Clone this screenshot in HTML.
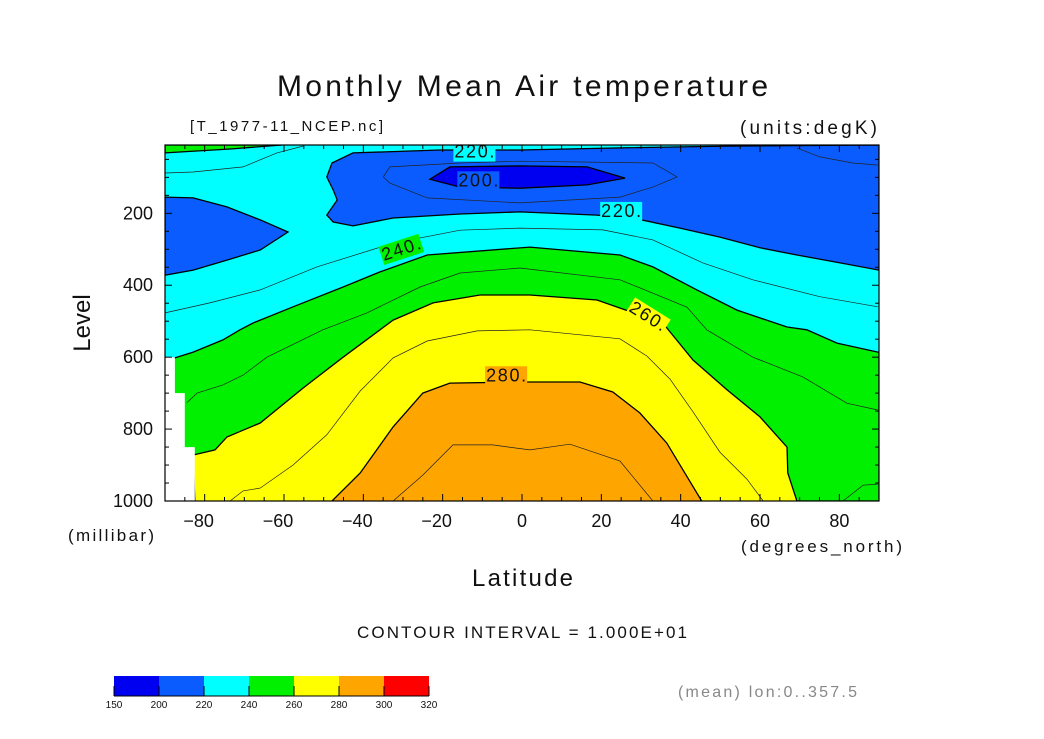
<!DOCTYPE html>
<html><head><meta charset="utf-8"><style>
html,body{margin:0;padding:0;background:#fff;}
svg{display:block;font-family:"Liberation Sans",sans-serif;}
</style></head><body>
<svg id="chart" width="1044" height="739" viewBox="0 0 1044 739">
<text x="277" y="96" font-size="30" textLength="491" lengthAdjust="spacing" fill="#111">Monthly Mean Air temperature</text>
<text x="190" y="131" font-size="15" textLength="193" lengthAdjust="spacing" fill="#111">[T_1977-11_NCEP.nc]</text>
<text x="740" y="134" font-size="19" textLength="137" lengthAdjust="spacing" fill="#111">(units:degK)</text>
<g id="plot"></g>
<g id="axes"></g>
<text transform="translate(90,323) rotate(-90)" font-size="24" text-anchor="middle" fill="#111">Level</text>
<text x="68" y="541" font-size="17" textLength="86" lengthAdjust="spacing" fill="#111">(millibar)</text>
<text x="741" y="552" font-size="17" textLength="161" lengthAdjust="spacing" fill="#111">(degrees_north)</text>
<text x="472" y="586" font-size="24" textLength="101" lengthAdjust="spacing" fill="#111">Latitude</text>
<text x="357" y="638" font-size="17" textLength="330" lengthAdjust="spacing" fill="#111">CONTOUR INTERVAL = 1.000E+01</text>
<g id="cbar"></g>
<text x="678" y="697" font-size="16" textLength="179" lengthAdjust="spacing" fill="#888">(mean) lon:0..357.5</text>
</svg>
<script>
// ---- data ----
const xTicks = [-80,-60,-40,-20,0,20,40,60,80];
const yTicks = [200,400,600,800,1000];
const cbLevels = [150,200,220,240,260,280,300,320];
const cbColors = ["#0000f0","#0a5cff","#00ffff","#00f000","#ffff00","#ffa500","#ff0000"];
// filled regions, [lat, pressure] vertices
const greenTop = [[-90,10],[-60.5,10],[-73.6,21],[-90,32]];
const blueLeft = [[-90,155],[-82.9,157],[-74.4,182],[-66,218],[-59,252],[-66,302],[-74.4,330],[-82.9,358],[-90,372]];
const blueUpper = [[-42.6,32],[-20.7,24],[-0.5,24],[24.7,18],[51.7,13],[90,10],[90,358],[80.2,338],[69.3,316],[60,296],[49.9,266],[39.8,241],[30.5,219],[18.9,205],[-0.5,196],[-15.6,202],[-32.5,213],[-42.6,235],[-47.6,224],[-49.2,205],[-46.6,163],[-47.6,135],[-49.2,99],[-47.9,60]];
const darkBlue = [[-23.2,105],[-18.2,71],[-0.5,68],[16.4,71],[26,102],[16.4,121],[-0.5,130],[-15.6,127]];
const green240 = [[-90,605],[-87.5,602],[-82.9,586],[-75.4,552],[-71.1,524],[-67.8,505],[-57.7,460],[-45.1,405],[-35.8,363],[-23.9,316],[2,294],[24.7,316],[33,349],[44.1,413],[54.2,469],[66.8,516],[71.8,524],[79.4,561],[89.7,586],[90,586],[90,1000],[-90,1000]];
const yellow260 = [[-82.5,1000],[-82.9,872],[-77.4,858],[-74.4,822],[-70.3,803],[-66,783],[-55.2,686],[-45.1,600],[-35.8,524],[-32.5,497],[-22.4,449],[-10.6,427],[2,427],[18.9,441],[35.5,505],[43.1,608],[51.7,691],[60,766],[66.8,850],[67,922],[69.3,1000]];
const orange280 = [[-47.9,1000],[-40.8,922],[-32.5,794],[-25,700],[-18.2,672],[-0.5,669],[14.6,669],[22.9,697],[29.7,755],[36.5,839],[45.3,1000]];
const missing = [[-90,600],[-87.5,600],[-87.5,700],[-85,700],[-85,850],[-82.5,850],[-82.5,1000],[-90,1000]];
// thin intermediate contours
const line215 = [[-35,99],[-33.3,71],[-15.6,60],[-0.5,55],[33,60],[39.1,99],[33,127],[24.7,155],[-0.5,171],[-23.9,157],[-33.3,116],[-35,99]];
const line225a = [[-90,88],[-82.9,85],[-70.3,71],[-61.8,32],[-55.2,13]];
const line225b = [[69.3,18],[75.1,43],[83.4,60],[89.7,66]];
const line230 = [[-90,477],[-78.7,449],[-66,413],[-51.7,349],[-32.5,283],[-15.6,247],[-0.5,241],[20.4,246],[33,274],[45.6,338],[58.2,385],[75.1,432],[89.7,460]];
const line250 = [[-84.5,727],[-81.9,700],[-75.4,677],[-70.3,650],[-64.3,600],[-50.2,524],[-39.1,477],[-25.7,405],[-15.6,366],[-0.5,352],[24.7,385],[41.6,461],[46.6,524],[58.2,600],[70.8,655],[81.9,728],[89.7,747]];
const line250b = [[80.9,1000],[86,956],[89.7,953]];
const line270 = [[-73.6,1000],[-70.3,972],[-66,964],[-57.7,900],[-49.2,816],[-40.8,694],[-32.5,602],[-23.9,555],[-11.3,527],[2,524],[24.7,549],[31.5,597],[37.3,661],[43.1,752],[49.9,864],[56.7,939],[60.8,1000]];
const line290 = [[-32.5,1000],[-25,928],[-17.4,844],[-7.4,844],[2,858],[12.1,842],[24.7,889],[33,1000]];
const labelText = ["220.","200.","220.","240.","260.","280."];
const labelPos = [[-12,45],[-11,125],[25,210],[-30,315],[31,500],[-4,667]];
const labelRot = [0,0,0,-18,32,0];
const labelBg = ["#00ffff","#0a5cff","#00ffff","#00f000","#ffff00","#ffa500"];

// ---- axes ----
const L=165,R=879,T=145,B=501,P0=10,P1=1000;
function X(lat){return L+(lat+90)/180*(R-L);}
function Y(p){return T+(p-P0)/(P1-P0)*(B-T);}
const NS="http://www.w3.org/2000/svg";
function mk(tag,attrs,parent){const e=document.createElementNS(NS,tag);for(const k in attrs)e.setAttribute(k,attrs[k]);parent.appendChild(e);return e;}
function pts(a){return a.map(d=>X(d[0]).toFixed(1)+","+Y(d[1]).toFixed(1)).join(" ");}
const plot=document.getElementById("plot");
const clip=mk("clipPath",{id:"pc"},plot);mk("rect",{x:L,y:T,width:R-L,height:B-T},clip);
const g=mk("g",{"clip-path":"url(#pc)"},plot);
let r=mk("rect",{x:L,y:T,width:R-L,height:B-T,fill:"#00ffff"},g);


const fills=[[greenTop,"#00f000","region-top-green"],[blueLeft,"#0a5cff","region-left-blue"],[blueUpper,"#0a5cff","region-upper-blue"],[darkBlue,"#0000f0","region-dark-blue"],[green240,"#00f000","region-240-260"]];
fills.forEach(f=>{const e=mk("polygon",{points:pts(f[0]),fill:f[1],stroke:"#000","stroke-width":1.3},g);

});
const fills2=[[yellow260.concat([[90,1000],[-90,1000]]),"#ffff00","region-260-280"],[orange280,"#ffa500","region-280-300"]];
fills2.forEach(f=>{const e=mk("polygon",{points:pts(f[0]),fill:f[1],stroke:"none"},g);

});
[yellow260,orange280].forEach(a=>{const e=mk("polyline",{points:pts(a),fill:"none",stroke:"#000","stroke-width":1.3},g);

});
let w=mk("polygon",{points:pts(missing),fill:"#fff"},g);


[line215,line225a,line225b,line230,line250,line250b,line270,line290].forEach(a=>{const e=mk("polyline",{points:pts(a),fill:"none",stroke:"#222","stroke-width":0.7},g);

});
labelText.forEach((t,i)=>{const x=X(labelPos[i][0]),y=Y(labelPos[i][1]);
const bg=mk("rect",{x:x-21,y:y-15,width:42,height:19,fill:labelBg[i],transform:`rotate(${labelRot[i]},${x},${y})`},g);


const e=mk("text",{x:x-20,y:y,"font-size":18,textLength:40,lengthAdjust:"spacing",fill:"#111",transform:`rotate(${labelRot[i]},${x},${y})`},g);e.textContent=t;

});

const ax=document.getElementById("axes");
mk("rect",{x:L,y:T,width:R-L,height:B-T,fill:"none",stroke:"#000","stroke-width":1.2},ax);
for(let lat=-90;lat<=90;lat+=5){const len=(lat%20===0)?7:4;
mk("line",{x1:X(lat),y1:B,x2:X(lat),y2:B-len,stroke:"#000","stroke-width":1},ax);
mk("line",{x1:X(lat),y1:T,x2:X(lat),y2:T+len,stroke:"#000","stroke-width":1},ax);}
for(let p=50;p<=1000;p+=50){const len=(p%200===0)?7:4;
mk("line",{x1:L,y1:Y(p),x2:L+len,y2:Y(p),stroke:"#000","stroke-width":1},ax);
mk("line",{x1:R,y1:Y(p),x2:R-len,y2:Y(p),stroke:"#000","stroke-width":1},ax);}
xTicks.forEach(v=>{const e=mk("text",{x:X(v)-(v<0?6:0),y:527,"font-size":18,"text-anchor":"middle",fill:"#111"},ax);e.textContent=v<0?"\u2212"+(-v):String(v);

});
yTicks.forEach(v=>{const e=mk("text",{x:153,y:Y(v)+6,"font-size":18,"text-anchor":"end",fill:"#111"},ax);e.textContent=v;

});

const cb=document.getElementById("cbar");
const cbL=114,cbW=45;
cbColors.forEach((c,i)=>{const e=mk("rect",{x:cbL+i*cbW,y:676,width:cbW,height:20,fill:c},cb);

});
cbLevels.forEach((v,i)=>{mk("line",{x1:cbL+i*cbW,y1:686,x2:cbL+i*cbW,y2:696,stroke:"#000"},cb);
const e=mk("text",{x:cbL+i*cbW,y:708,"font-size":10,"text-anchor":"middle",fill:"#111"},cb);e.textContent=v;

});
mk("line",{x1:cbL,y1:696,x2:cbL+7*cbW,y2:696,stroke:"#000"},cb);
</script>
</body></html>
